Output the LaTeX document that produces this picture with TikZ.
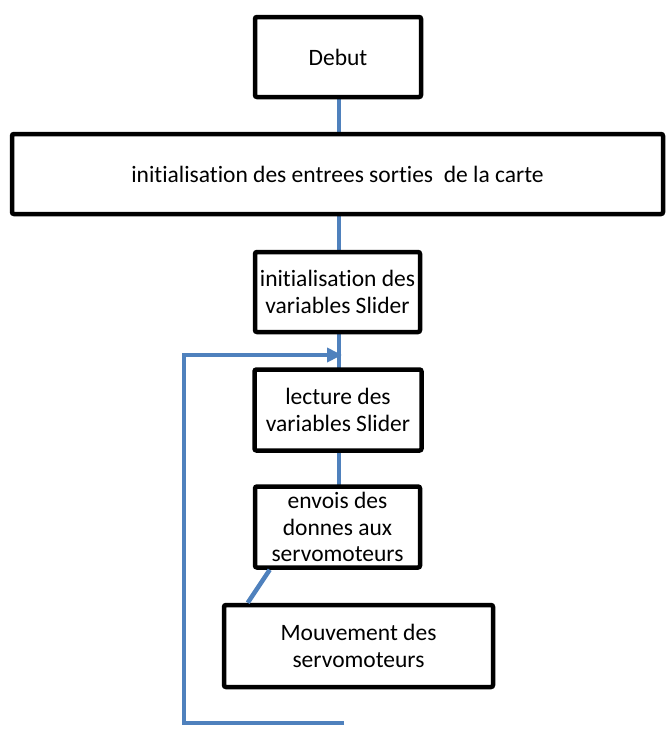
\documentclass[tikz,border=0pt]{standalone}
\usepackage{fontspec}
\setmainfont{Carlito}[Ligatures={NoCommon}]
\usetikzlibrary{arrows.meta,calc}
\definecolor{flowblue}{RGB}{79,129,189}
\begin{document}
\begin{tikzpicture}[x=1pt,y=-1pt,
  flowbox/.style={draw=black,line width=4.5pt,rounded corners=2pt,fill=white,
    align=center,inner sep=0pt,font=\fontsize{23.5}{26.5}\selectfont},
  link/.style={draw=flowblue,line width=4.5pt},
  looparrow/.style={link,-{Triangle[length=15pt,width=14pt]}}]
\useasboundingbox (0,0) rectangle (667,734);
% connectors first (behind boxes)
\coordinate (c1) at (339,57);
\coordinate (c5) at (339,527);
\draw[link] (c1) -- (c5);
% boxes
\node[flowbox,minimum width=166pt,minimum height=80pt] (debut) at (338,57) {Debut};
\node[flowbox,minimum width=651pt,minimum height=80pt] (init) at (337.5,174) {initialisation des entrees sorties\ \ de la carte};
\node[flowbox,minimum width=165pt,minimum height=80pt] (initvar) at (337.5,292) {initialisation des\\variables Slider};
\node[flowbox,minimum width=167pt,minimum height=81pt] (lect) at (338,410) {lecture des\\variables Slider};
\node[flowbox,minimum width=165pt,minimum height=81pt] (envoi) at (337.5,527) {envois des\\donnes aux\\servomoteurs};
\node[flowbox,minimum width=269pt,minimum height=82pt] (mouv) at (358.5,646) {Mouvement des\\servomoteurs};
% diagonal link
\draw[link] ([xshift=17pt]envoi.south west) -- ([xshift=26pt]mouv.north west);
% loop back
\coordinate (loopend) at (344,723);
\coordinate (loopcorner) at (184,723);
\coordinate (looptarget) at (342,355);
\draw[looparrow] (loopend) -- (loopcorner) |- (looptarget);
\end{tikzpicture}
\end{document}
